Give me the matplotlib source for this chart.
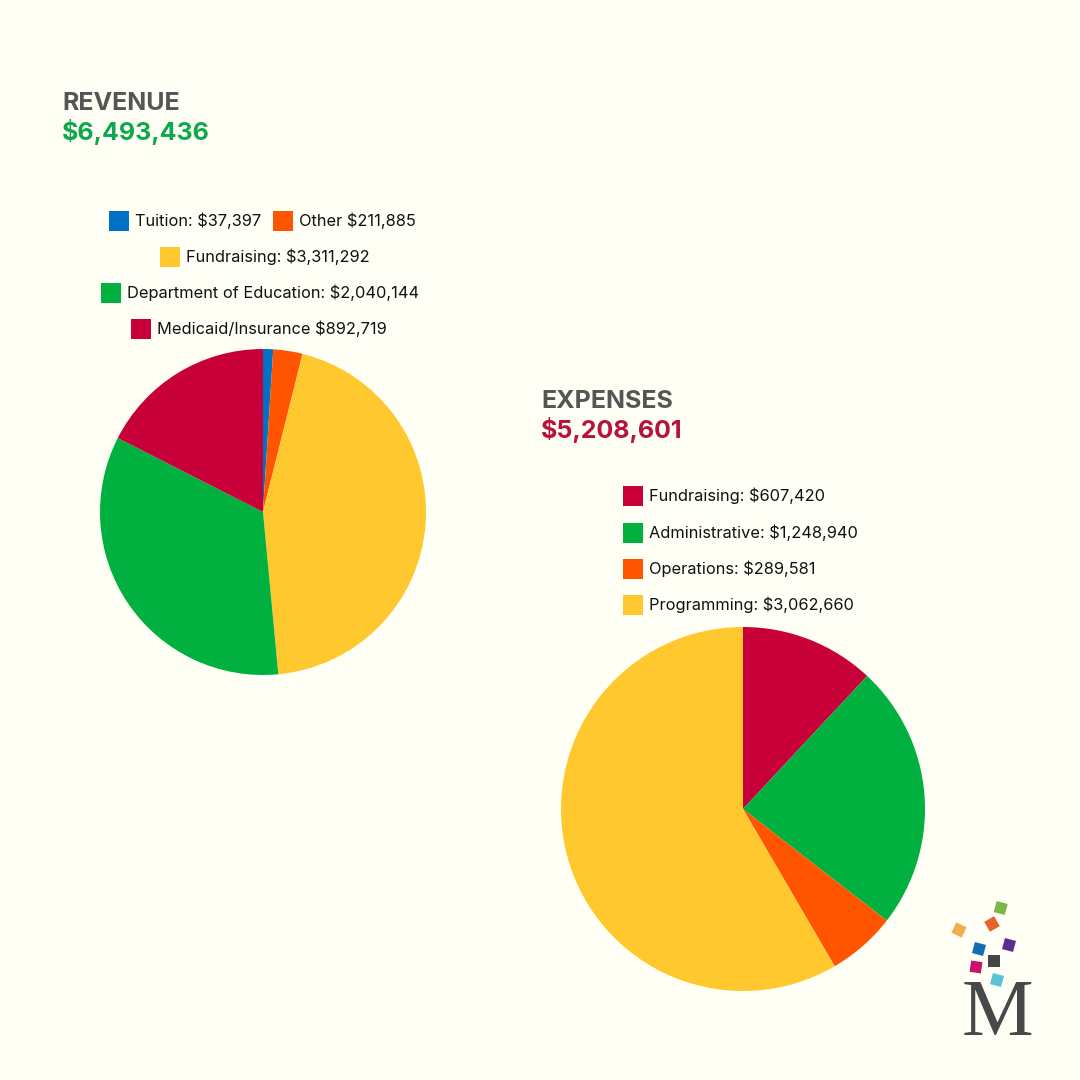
import matplotlib
matplotlib.use("Agg")
import matplotlib.pyplot as plt
from matplotlib.patches import Patch, Rectangle
from matplotlib.transforms import Affine2D

BG = "#FFFFF5"
RED = "#C8003A"
GREEN = "#00B140"
YELLOW = "#FFC82E"
ORANGE = "#FF5500"
BLUE = "#0072C6"
GREY = "#555555"

plt.rcParams["font.family"] = ["Inter", "DejaVu Sans"]

# slices are read off the picture, they do not exactly follow the printed amounts
revenueShares = [1.0, 2.9, 44.6, 34.0, 17.5]
revenueColors = [BLUE, ORANGE, YELLOW, GREEN, RED]
revenueLegendRows = [
    [("Tuition: $37,397", BLUE), ("Other $211,885", ORANGE)],
    [("Fundraising: $3,311,292", YELLOW)],
    [("Department of Education: $2,040,144", GREEN)],
    [("Medicaid/Insurance $892,719", RED)],
]

expenseShares = [11.95, 23.55, 6.1, 58.4]
expenseColors = [RED, GREEN, ORANGE, YELLOW]
expenseLegendRows = [
    [("Fundraising: $607,420", RED)],
    [("Administrative: $1,248,940", GREEN)],
    [("Operations: $289,581", ORANGE)],
    [("Programming: $3,062,660", YELLOW)],
]

logoSquares = [
    (1000.7, 908, "#7AB648", 15),
    (992, 924, "#E8632A", -30),
    (959, 930, "#F2AE4E", 25),
    (979, 949, "#0F6DB0", 15),
    (1009, 945, "#5B2D8E", 15),
    (994, 961, "#464646", 0),
    (976, 967, "#C9116B", 8),
    (997, 980, "#5BC2D6", 15),
]


def drawPie(fig, centerX, centerY, radius, values, colors):
    ax = fig.add_axes([(centerX - radius) / 1080, 1 - (centerY + radius) / 1080,
                       2 * radius / 1080, 2 * radius / 1080])
    ax.pie(values, colors=colors, startangle=90, counterclock=False, radius=1)
    ax.set_xlim(-1, 1)
    ax.set_ylim(-1, 1)
    return ax


def drawLegendRow(fig, row, leftX, centerY):
    handles = [Patch(facecolor=color, edgecolor="none") for _, color in row]
    labels = [label for label, _ in row]
    fig.legend(handles, labels, loc="center left", bbox_to_anchor=(leftX / 1080, 1 - centerY / 1080),
               ncol=len(row), frameon=False, fontsize=11.8, handlelength=1.22, handleheight=1.5,
               handletextpad=0.36, columnspacing=0.72, labelcolor="#111111",
               borderpad=0, borderaxespad=0)


fig = plt.figure(figsize=(10.8, 10.8), dpi=100, facecolor=BG)

drawPie(fig, 263, 512, 163, revenueShares, revenueColors)
drawPie(fig, 743, 809, 182, expenseShares, expenseColors)

for row, y, x in zip(revenueLegendRows, [221, 257, 293, 329], [109, 160, 101, 131]):
    drawLegendRow(fig, row, x, y)
for row, y in zip(expenseLegendRows, [496, 533, 569, 605]):
    drawLegendRow(fig, row, 623, y)

# overlay in pixel coordinates for headings and logo
overlay = fig.add_axes([0, 0, 1, 1], facecolor="none")
overlay.set_xlim(0, 1080)
overlay.set_ylim(1080, 0)
overlay.axis("off")

overlay.text(62, 103.5, "REVENUE", fontsize=18, fontweight="bold", color=GREY, va="center")
overlay.text(62, 132, "$6,493,436", fontsize=18, fontweight="bold", color="#0FA84C", va="center")
overlay.text(541, 401.5, "EXPENSES", fontsize=18, fontweight="bold", color=GREY, va="center")
overlay.text(541, 430, "$5,208,601", fontsize=18, fontweight="bold", color="#B8103F", va="center")

for x, y, color, angle in logoSquares:
    transform = Affine2D().rotate_deg_around(x, y, angle) + overlay.transData
    overlay.add_patch(Rectangle((x - 5.7, y - 5.7), 11.4, 11.4, facecolor=color, edgecolor="none",
                                transform=transform))

overlay.text(997.5, 1035, "M", fontsize=58, color="#484848", family="Liberation Serif",
             ha="center", va="baseline")

fig.savefig("out.png", dpi=100, facecolor=BG)
